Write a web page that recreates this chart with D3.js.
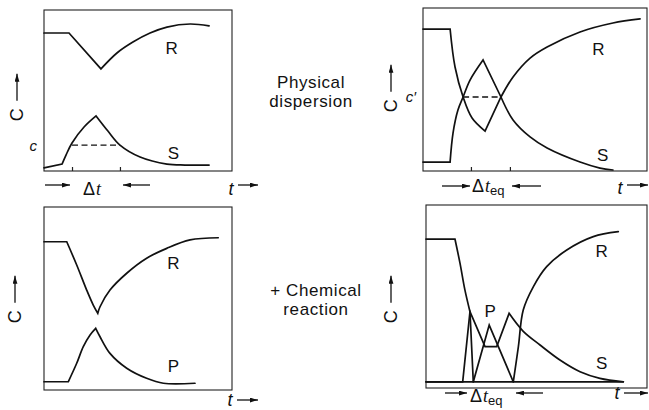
<!DOCTYPE html>
<html>
<head>
<meta charset="utf-8">
<script src="https://cdn.jsdelivr.net/npm/d3@7"></script>
<style>
body { margin: 0; background: #fff; }
svg { display: block; }
text { font-family: "Liberation Sans", Arial, sans-serif; fill: #111; }
</style>
</head>
<body>
<svg id="fig" width="649" height="410"></svg>
<script>
// values: t and C both run 0-100 inside each frame
// a curve is a list of pieces, two-point pieces are straight, longer ones smooth

// top left: physical dispersion, single pass
const aR = [
	[[0,85.7],[13.3,85.7]],
	[[13.3,85.7],[30.3,63.4]],
	[[30.3,63.4],[38.8,73.3],[47.3,80.1],[56.4,85.7],[65.4,89.4],[77.7,91.3],[87.8,90.1]]
];
const aS = [
	[[0,1.9],[9.6,4.3]],
	[[9.6,4.3],[11.7,9.9],[14.9,17.4],[21.3,27.3],[27.7,34.2]],
	[[27.7,34.2],[34,24.8],[40.4,16.1],[51.1,8.7],[65.4,4.3],[75,3.7],[87.8,3.7]]
];
const aLevel = [[14.9,16.1],[40.4,16.1]];
const aTicks = [14.9, 40.4];

// top right: physical dispersion, counter exchange
const bR = [
	[[0,87.1],[12.1,87.1]],
	[[12.1,87.1],[14.3,63.8],[17.9,45.4],[21.9,32.5],[27.7,24.5]],
	[[27.7,24.5],[34.8,45.4]],
	[[34.8,45.4],[40.2,57.7],[47.8,69.3],[55.4,76.1],[70.1,85.3],[84.8,90.8],[96.9,93.3]]
];
const bS = [
	[[0,5.5],[12.1,5.5]],
	[[12.1,5.5],[13.4,23.3],[15.6,37.4],[17.9,45.4],[21,55.8],[26.8,68.1]],
	[[26.8,68.1],[34.8,45.4]],
	[[34.8,45.4],[40.2,31.3],[47.8,20.9],[55.4,14.1],[70.1,5.5],[79,1.8],[84.8,0.6]]
];
const bLevel = [[17.9,45.4],[34.8,45.4]];
const bTicks = [21.4, 38.8];

// bottom left: with chemical reaction
const cR = [
	[[0,81],[12.1,81]],
	[[12.1,81],[17.4,68.3],[22.7,54.6],[26.2,46.4],[28.6,41.9]],
	[[28.6,41.9],[29.8,45.5],[35.1,54.6],[44,63.8],[54.6,72],[65.3,77.4],[77.7,82],[92.7,83.2]]
];
const cP = [
	[[0,4.5],[12.9,4.5]],
	[[12.9,4.5],[17.4,14.6],[20.9,23.7],[24.5,30.1],[27.5,33.7]],
	[[27.5,33.7],[29.8,29.1],[35.1,20],[44,11.9],[54.6,6.4],[63.5,3.7],[80.3,3.7]]
];

// bottom right: with chemical reaction, counter exchange
const dR = [
	[[0,81.4],[13.1,81.4]],
	[[13.1,81.4],[15.4,68.1],[17.6,53.6],[19.9,41.7]],
	[[19.9,41.7],[21.4,3.4]],
	[[21.4,3.4],[39.5,3.4]],
	[[39.5,3.4],[41.8,22.6],[44,42.6],[48.6,55.4],[54.6,66.3],[63.7,75.4],[75.7,82.7],[87,85.4]]
];
const dS = [
	[[0,3.4],[16.6,3.4]],
	[[16.6,3.4],[19.9,41.7]],
	[[19.9,41.7],[26.7,22.6]],
	[[26.7,22.6],[32,22.6]],
	[[32,22.6],[37.6,40.8]],
	[[37.6,40.8],[43.9,31.1],[51.6,23.5],[60.6,15.3],[69.7,8.9],[78.7,5.3],[89.3,3.4]]
];
const dP = [
	[[0,3.4],[21.4,3.4]],
	[[21.4,3.4],[28.6,34.4]],
	[[28.6,34.4],[39.5,3.4]],
	[[39.5,3.4],[89.3,3.4]]
];

const svg = d3.select("#fig");

svg.append("defs").append("marker")
	.attr("id", "head")
	.attr("viewBox", "0 0 10 6")
	.attr("refX", 10)
	.attr("refY", 3)
	.attr("markerWidth", 8)
	.attr("markerHeight", 5)
	.attr("markerUnits", "userSpaceOnUse")
	.attr("orient", "auto")
	.append("path")
		.attr("d", "M0,0L10,3L0,6Z")
		.attr("fill", "#111");

const arrow = (x1, y1, x2, y2) => {
	svg.append("line")
		.attr("x1", x1).attr("y1", y1)
		.attr("x2", x2).attr("y2", y2)
		.attr("stroke", "#111")
		.attr("stroke-width", 1.3)
		.attr("marker-end", "url(#head)");
};

const plotPanel = (box, curves, labels) => {
	const x = d3.scaleLinear().domain([0, 100]).range([box.left, box.right]);
	const y = d3.scaleLinear().domain([0, 100]).range([box.bottom, box.top]);
	const g = svg.append("g");

	g.append("rect")
		.attr("x", box.left)
		.attr("y", box.top)
		.attr("width", box.right - box.left)
		.attr("height", box.bottom - box.top)
		.attr("fill", "none")
		.attr("stroke", "#222")
		.attr("stroke-width", 1.1);

	const line = d3.line()
		.x(d => x(d[0]))
		.y(d => y(d[1]))
		.curve(d3.curveCatmullRom.alpha(0.5));

	curves.forEach(c => {
		g.append("path")
			.attr("d", c.map((p, i) => i ? line(p).replace(/^M/, "L") : line(p)).join(""))
			.attr("fill", "none")
			.attr("stroke", "#111")
			.attr("stroke-width", 1.7)
			.attr("stroke-linejoin", "miter")
			.attr("stroke-linecap", "round");
	});

	labels.forEach(l => {
		g.append("text")
			.attr("x", x(l[1]))
			.attr("y", y(l[2]))
			.attr("text-anchor", "middle")
			.attr("dominant-baseline", "central")
			.attr("font-size", 17)
			.text(l[0]);
	});

	// C with arrow pointing up, left of the frame
	const cx = box.left - box.cOff, cy = box.top + (box.bottom - box.top) * box.cPos;
	g.append("text")
		.attr("transform", "translate(" + cx + "," + cy + ") rotate(-90)")
		.attr("text-anchor", "middle")
		.attr("dominant-baseline", "central")
		.attr("font-size", 18)
		.text("C");
	arrow(cx, cy - 14, cx, cy - 41);

	return {x, y, g};
};

const addLevel = (panel, level, ticks, name) => {
	panel.g.append("path")
		.attr("d", d3.line().x(d => panel.x(d[0])).y(d => panel.y(d[1]))(level))
		.attr("fill", "none")
		.attr("stroke", "#111")
		.attr("stroke-width", 1.3)
		.attr("stroke-dasharray", "6,3.5");

	panel.g.append("g")
		.attr("transform", "translate(0," + panel.y(0) + ")")
		.call(d3.axisBottom(panel.x).tickValues(ticks).tickSizeInner(-4).tickSizeOuter(0).tickFormat(""))
		.call(a => a.select(".domain").remove())
		.call(a => a.selectAll("line").attr("stroke", "#222").attr("stroke-width", 1.2));

	panel.g.append("text")
		.attr("x", panel.x(0) - 7)
		.attr("y", panel.y(level[0][1]))
		.attr("text-anchor", "end")
		.attr("dominant-baseline", "central")
		.attr("font-family", "Liberation Serif, serif")
		.attr("font-style", "italic")
		.attr("font-size", 15)
		.text(name);
};

// t label with arrow under a frame
const timeLabel = (xt, yb, ya, xEnd) => {
	svg.append("text")
		.attr("x", xt)
		.attr("y", yb)
		.attr("text-anchor", "middle")
		.attr("font-family", "Liberation Serif, serif")
		.attr("font-style", "italic")
		.attr("font-size", 18)
		.text("t");
	arrow(xt + 7, ya, xEnd, ya);
};

const deltaLabel = (x0, yb, ya, sub, a1, a2, b1, b2) => {
	const t = svg.append("text")
		.attr("x", x0)
		.attr("y", yb)
		.attr("font-size", 18);
	t.append("tspan").text("Δ");
	t.append("tspan").attr("font-family", "Liberation Serif, serif").attr("font-style", "italic").attr("dx", 1).text("t");
	if (sub) t.append("tspan").attr("font-size", 13).attr("dy", 3).text(sub);
	arrow(a1, ya, a2, ya);
	arrow(b1, ya, b2, ya);
};

const pA = plotPanel({left: 44, right: 232, top: 10, bottom: 171, cOff: 27, cPos: 0.65}, [aR, aS], [["R", 67.9, 76.2], ["S", 68.8, 11]]);
addLevel(pA, aLevel, aTicks, "c");

const pB = plotPanel({left: 423, right: 647, top: 8, bottom: 171, cOff: 32, cPos: 0.6}, [bR, bS], [["R", 78.3, 74.8], ["S", 80.2, 9.8]]);
addLevel(pB, bLevel, bTicks, "c′");

plotPanel({left: 44, right: 232, top: 207, bottom: 390, cOff: 29, cPos: 0.6}, [cR, cP], [["R", 68.8, 69.2], ["P", 68.8, 12.7]]);

plotPanel({left: 426, right: 647, top: 205, bottom: 388, cOff: 35, cPos: 0.61}, [dR, dS, dP], [["R", 79.5, 74.5], ["P", 29, 41.7], ["S", 79.5, 13.5]]);

deltaLabel(83, 195, 185, null, 45, 70, 150, 123);
deltaLabel(472, 192, 186, "eq", 442, 470, 541, 512);
deltaLabel(470, 402, 393, "eq", 445, 467, 543, 516);

timeLabel(231, 195, 185, 258);
timeLabel(620, 194, 185, 648);
timeLabel(230, 406, 400, 258);
timeLabel(617, 399, 393, 648);

// middle captions
const caption = (lines, xc, y0) => {
	lines.forEach((s, i) => {
		svg.append("text")
			.attr("x", xc)
			.attr("y", y0 + i * 19)
			.attr("text-anchor", "middle")
			.attr("font-size", 17)
			.attr("letter-spacing", 0.6)
			.text(s);
	});
};
caption(["Physical", "dispersion"], 311, 88);
caption(["+  Chemical", "reaction"], 316, 296);
</script>
</body>
</html>
